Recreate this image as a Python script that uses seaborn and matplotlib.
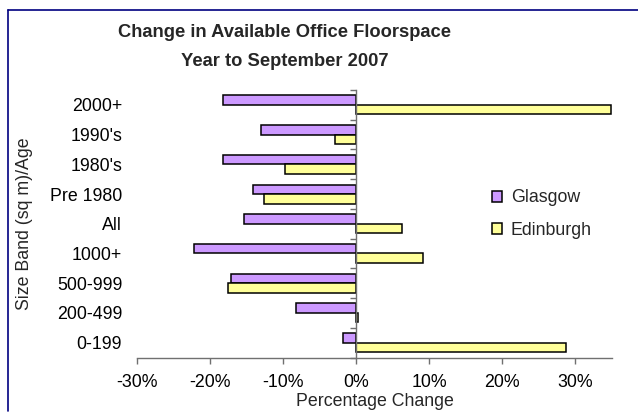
import matplotlib
matplotlib.use("Agg")
import matplotlib.pyplot as plt
import seaborn as sns
import pandas as pd
from matplotlib.patches import Patch
from matplotlib.lines import Line2D

categories = ["2000+", "1990's", "1980's", "Pre 1980", "All", "1000+", "500-999", "200-499", "0-199"]
glasgow = [-18.3, -13.0, -18.3, -14.1, -15.4, -22.2, -17.2, -8.3, -1.8]
edinburgh = [34.9, -2.9, -9.7, -12.6, 6.2, 9.2, -17.6, 0.3, 28.7]
series_names = ["Glasgow", "Edinburgh"]
x_ticks = [-30, -20, -10, 0, 10, 20, 30]
x_tick_labels = ["-30%", "-20%", "-10%", "0%", "10%", "20%", "30%"]

df = pd.DataFrame({
    "Category": categories * 2,
    "Change": glasgow + edinburgh,
    "City": [series_names[0]] * len(categories) + [series_names[1]] * len(categories),
})

sns.set_theme(style="white")
plt.rcParams["font.family"] = ["Liberation Sans", "DejaVu Sans"]

W, H = 638, 416
fig = plt.figure(figsize=(W / 100, H / 100), dpi=100)
fig.patch.set_facecolor("white")
ax = fig.add_axes([137 / W, 1 - 357.5 / H, (612 - 137) / W, (357.5 - 90) / H])
ax.set_facecolor("white")

colors = {"Glasgow": "#CC99FF", "Edinburgh": "#FFFF99"}
sns.barplot(data=df, y="Category", x="Change", hue="City", order=categories,
            hue_order=series_names, palette=colors, orient="h", width=0.64,
            edgecolor="black", linewidth=1.1, saturation=1, ax=ax, legend=False)

ax.set_xlim(-30, 35)
ax.set_ylim(len(categories) - 0.5, -0.5)

axis_color = "#707070"
for s in ["top", "right"]:
    ax.spines[s].set_visible(False)
ax.spines["left"].set_position(("data", 0))
ax.spines["left"].set_color(axis_color)
ax.spines["bottom"].set_color(axis_color)
ax.spines["left"].set_linewidth(1.0)
ax.spines["bottom"].set_linewidth(1.0)
ax.spines["left"].set_zorder(5)

ax.set_xticks(x_ticks)
ax.set_xticklabels(x_tick_labels)
ax.tick_params(axis="x", direction="out", length=4, width=1, color=axis_color,
               labelsize=12.8, pad=8, labelcolor="black", bottom=True)

ax.set_yticks(range(len(categories)))
ax.set_yticklabels(categories)
ax.set_yticks([i - 0.5 for i in range(len(categories) + 1)], minor=True)
ax.tick_params(axis="y", which="major", length=0, pad=(357 - 123) * 0.72,
               labelsize=12.8, labelcolor="black")
ax.tick_params(axis="y", which="minor", direction="out", length=4, width=1,
               color=axis_color, left=True)

ax.set_xlabel("Percentage Change", fontsize=12.8, labelpad=0)
ax.xaxis.set_label_coords(0.5, (357.5 - 401) / (357.5 - 90), transform=ax.transAxes)
ax.set_ylabel("Size Band (sq m)/Age", fontsize=12.8)
ax.yaxis.set_label_coords((25 - 137) / (612 - 137), 0.5)
ax.xaxis.label.set_va("center")
ax.yaxis.label.set_va("center")

handles = [Patch(facecolor=colors[n], edgecolor="black", linewidth=1.1, label=n) for n in series_names]
fig.legend(handles=handles, loc="center left", bbox_to_anchor=(492 / W, 1 - 214 / H),
           frameon=False, fontsize=12.8, handlelength=0.55, handleheight=0.55,
           handletextpad=0.5, labelspacing=0.85, borderpad=0, borderaxespad=0)

fig.text(285 / W, 1 - 37.3 / H, "Change in Available Office Floorspace",
         ha="center", va="baseline", fontsize=13.2, fontweight="bold")
fig.text(285 / W, 1 - 65.7 / H, "Year to September 2007",
         ha="center", va="baseline", fontsize=13.2, fontweight="bold")

border = "#000080"
fig.add_artist(Line2D([8 / W, 8 / W], [1 - 9.5 / H, 1 - 411 / H], color=border, lw=1.2, transform=fig.transFigure))
fig.add_artist(Line2D([8 / W, 1.0], [1 - 9.5 / H, 1 - 9.5 / H], color=border, lw=1.2, transform=fig.transFigure))

fig.savefig("out.png", dpi=100)
